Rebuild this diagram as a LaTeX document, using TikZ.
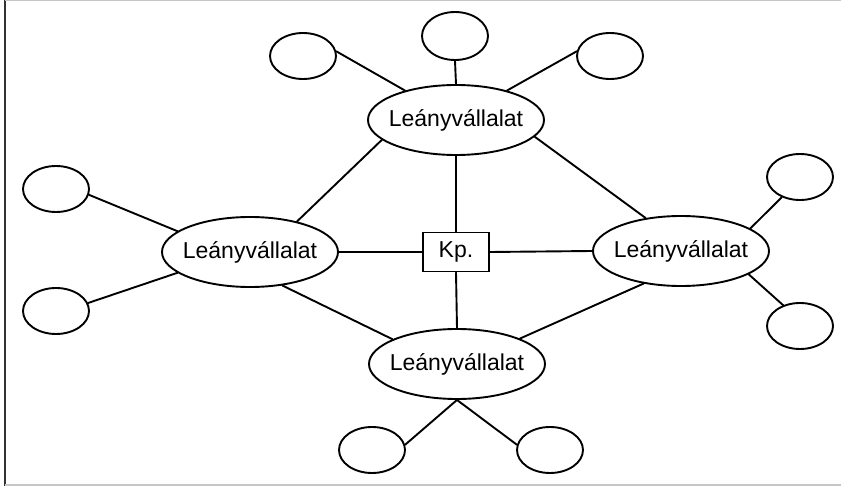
\documentclass[tikz,border=0pt]{standalone}
\usepackage{fontspec}
\setmainfont{Liberation Sans}
\usetikzlibrary{shapes.geometric}
\tikzset{
  conn/.style={line width=1.9pt, line cap=round},
  bigell/.style={draw, ellipse, line width=1.9pt, inner sep=0pt, minimum width=176pt, minimum height=70pt, font=\fontsize{23}{27}\selectfont},
  smallell/.style={draw, ellipse, line width=1.9pt, inner sep=0pt, minimum width=66pt, minimum height=46pt},
  kpbox/.style={draw, rectangle, line width=1.9pt, inner sep=0pt, minimum width=66pt, minimum height=39pt, font=\fontsize{23}{27}\selectfont},
  frameline/.style={line width=1.2pt, draw=gray!45}
}
\begin{document}
\begin{tikzpicture}[x=1pt, y=-1pt]
\useasboundingbox (0,0) rectangle (841,486);
% frame
\draw[line width=2pt, draw=black!80] (5,0) -- (5,486);
\draw[frameline] (5,0.8) -- (841,0.8);
\draw[frameline] (5,485) -- (841,485);
% main nodes
\node[bigell] (T) at (456,120) {\makebox[0pt]{Leányvállalat}};
\node[bigell] (L) at (250,252) {\makebox[0pt]{Leányvállalat}};
\node[bigell] (R) at (681,251) {\makebox[0pt]{Leányvállalat}};
\node[bigell] (B) at (457,364) {\makebox[0pt]{Leányvállalat}};
\node[kpbox] (K) at (456,252) {Kp.};
% small ellipses
\node[smallell] (tl) at (303,56) {};
\node[smallell, minimum height=48pt] (tm) at (455,36) {};
\node[smallell] (tr) at (610,56) {};
\node[smallell] (ls1) at (56,189) {};
\node[smallell] (ls2) at (56,311) {};
\node[smallell] (ru) at (800,177) {};
\node[smallell] (rl) at (800,326) {};
\node[smallell] (bl) at (372,450) {};
\node[smallell] (br) at (550,450) {};
% connectors between main nodes
\draw[conn] (T.south) -- (K.north);
\draw[conn] (K.south) -- (B.north);
\draw[conn] (L.east) -- (K.west);
\draw[conn] (K.east) -- (R.west);
\draw[conn] (T.195) -- (L.33);
\draw[conn] (T.348) -- (R.137);
\draw[conn] (L.314) -- (B.159);
\draw[conn] (R.221) -- (B.22);
% connectors to small ellipses
\draw[conn] (tl.8) -- (T.150);
\draw[conn] (tm.south) -- (T.north);
\draw[conn] (tr.172) -- (T.30);
\draw[conn] (ls1.-10) -- (L.164);
\draw[conn] (ls2.14) -- (L.196);
\draw[conn] (ru.228) -- (R.18);
\draw[conn] (rl.129) -- (R.341);
\draw[conn] (bl.9) -- (B.south);
\draw[conn] (br.171) -- (B.south);
\end{tikzpicture}
\end{document}
